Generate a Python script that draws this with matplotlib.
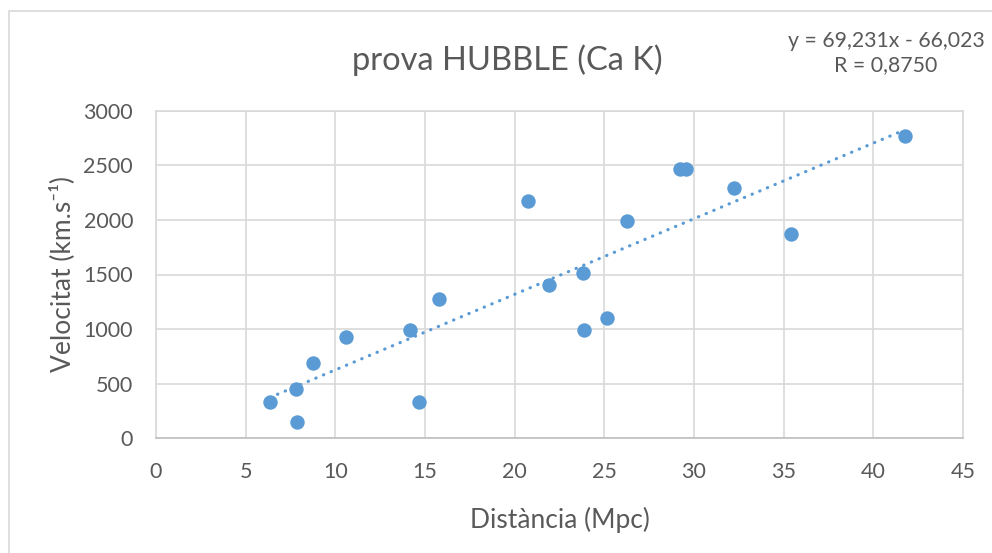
import numpy as np
import matplotlib.pyplot as plt
from matplotlib.patches import Rectangle

# Distance (Mpc) and recession velocity (km/s)
distancia = [6.35, 7.84, 7.80, 8.73, 10.61, 14.14, 14.66, 15.76, 20.72, 21.89,
             23.80, 23.88, 25.14, 26.29, 29.21, 29.58, 32.22, 35.40, 41.77]
velocitat = [330, 152, 454, 687, 928, 989, 330, 1279, 2173, 1404,
             1517, 989, 1105, 1990, 2463, 2463, 2289, 1874, 2766]

# linear trend as reported by the spreadsheet
pendent = 69.231
ordenada = -66.023
r_text = "0,8750"

x_ticks = [0, 5, 10, 15, 20, 25, 30, 35, 40, 45]
y_ticks = [0, 500, 1000, 1500, 2000, 2500, 3000]

blue = "#5b9bd5"
text_gray = "#595959"
grid_gray = "#d9d9d9"

plt.rcParams['font.family'] = ['Lato', 'DejaVu Sans']

fig = plt.figure(figsize=(9.92, 5.53), dpi=100)
fig.patches.append(Rectangle((9 / 992, -0.1), 1.2, 1 - 11 / 553 + 0.1,
                             transform=fig.transFigure, fill=False,
                             edgecolor=grid_gray, linewidth=1.2))

ax = fig.add_axes([156 / 992, 1 - 438.3 / 553, (963 - 156) / 992, (438.3 - 110.7) / 553])

ax.scatter(distancia, velocitat, s=108, color=blue, zorder=3, linewidths=0)

xt = np.array([min(distancia), max(distancia)])
ax.plot(xt, pendent * xt + ordenada, color=blue, linewidth=2.3,
        linestyle=(0, (0.1, 2.5)), dash_capstyle='round', zorder=2)

ax.set_xlim(0, 45)
ax.set_ylim(0, 3000)
ax.set_xticks(x_ticks)
ax.set_yticks(y_ticks)
ax.grid(True, color=grid_gray, linewidth=1.2)
ax.set_axisbelow(True)
for s in ax.spines.values():
    s.set_color(grid_gray)
    s.set_linewidth(1.2)
ax.spines['bottom'].set_color("#bfbfbf")
ax.tick_params(length=0, labelsize=15.5, colors=text_gray)
ax.tick_params(axis='x', pad=17)
ax.tick_params(axis='y', pad=16.5)

ax.set_xlabel("Distància (Mpc)", fontsize=19, color=text_gray, labelpad=18)
ax.set_ylabel("Velocitat (km.s⁻¹)", fontsize=19, color=text_gray, labelpad=6)

fig.text(507 / 992, 1 - 60 / 553, "prova HUBBLE (Ca K)", fontsize=23.5, color=text_gray,
         ha='center', va='center')
eq = f"y = {pendent:.3f}x - {abs(ordenada):.3f}".replace(".", ",")
fig.text(886 / 992, 1 - 53 / 553, eq + "\nR = " + r_text, fontsize=15.3, color=text_gray,
         ha='center', va='center', linespacing=1.25)

fig.savefig("out.png", dpi=100)
